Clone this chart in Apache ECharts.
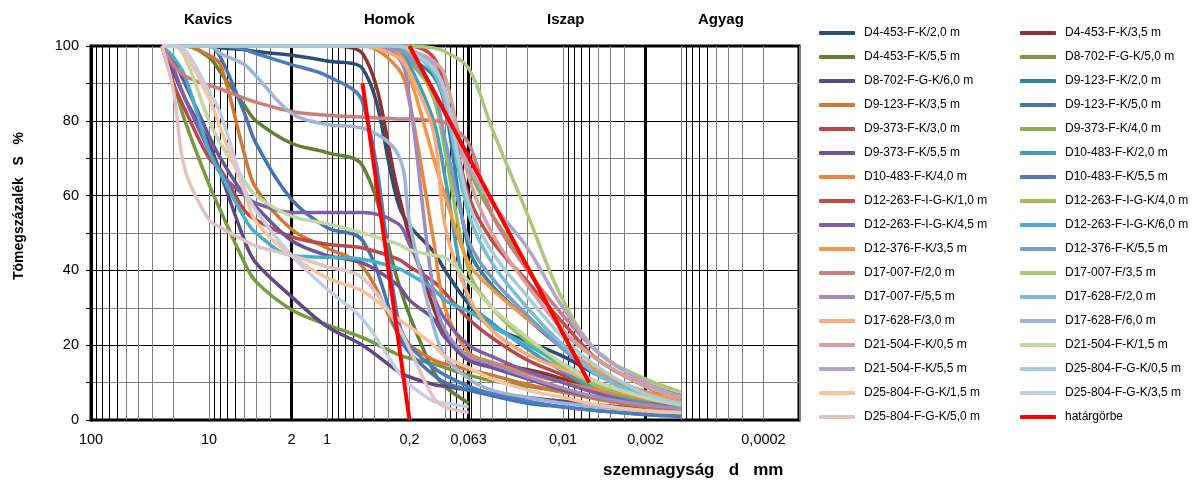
<!DOCTYPE html>
<html>
<head>
<meta charset="utf-8">
<script src="https://cdn.jsdelivr.net/npm/echarts@6.0.0/dist/echarts.min.js"></script>
<style>
  html, body { margin: 0; padding: 0; background: #fff; }
  #main { width: 1195px; height: 482px; }
</style>
</head>
<body>
<div id="main"></div>
<script>
// szemcseméret (mm) - közös mintavételi pontok
const SIZES = [25, 20, 16, 10, 8, 5, 4, 2, 1, 0.5, 0.25, 0.2, 0.125, 0.1, 0.063, 0.04, 0.02, 0.01, 0.005, 0.002, 0.001];

// áthullott tömegszázalék (%) mintánként
const S01 = [100, 100, 100, 100, 99.5, 99, 98.5, 97.5, 96, 94, 58, 52, 45, 40, 31, 25, 21, 17, 12, 7.5, 5];
const S02 = [100, 100, 100, 100, 100, 100, 100, 100, 100, 98, 61, 49, 30, 23, 16, 15, 13.5, 11, 7.5, 4.5, 3.5];
const S03 = [100, 100, 100, 97, 93, 84, 80, 74, 71.5, 68, 37, 28, 13, 9, 4.5, null, null, null, null, null, null];
const S04 = [100, 90, 80, 63, 56, 42, 37, 29.5, 25.5, 22, 17.5, 16.5, 15, 14, 12, 10.5, 9, 7.5, 6, 4.5, 3.5];
const S05 = [100, 93, 86, 74, 66, 48, 42, 33, 25, 20, 13, 11.5, 9.5, 9, 8, 7, 6, 5, 4, 3, 2.5];
const S06 = [100, 100, 100, 100, 100, 100, 100, 100, 100, 100, 100, 97, 92, 84, 46, 36, 27, 19, 12, 6.5, 4];
const S07 = [100, 100, 100, 97.5, 95, 71, 62, 51, 46, 41, 23, 20, 16, 15, 13.5, 12, 9.5, 7.5, 5.5, 3.5, 3];
const S08 = [100, 100, 100, 100, 97, 82, 74, 59, 51.5, 48, 23, 18, 12, 10, 8, 6.5, 4.5, 3.5, 2.5, 1.5, 1];
const S09 = [100, 90, 83, 70, 67, 56, 53.5, 49, 47, 46, 43, 41, 37, 34, 27, 22, 16, 12, 8, 5, 4];
const S10 = [100, 100, 100, 100, 100, 100, 100, 100, 100, 100, 100, 96, 88, 82, 67, 55, 41, 24, 16, 9, 6];
const S11 = [100, 96, 90, 76, 70, 60, 57, 48, 44, 42, 36, 32, 27, 22, 16, 14, 11, 8, 6, 4, 3];
const S12 = [100, 100, 100, 100, 100, 100, 100, 100, 100, 100, 99, 95, 80, 65, 32, 26, 19, 13, 8, 4.5, 3];
const S13 = [100, 100, 100, 100, 100, 100, 100, 100, 100, 100, 94, 85, 48, 30, 18, 15.5, 12.5, 10, 8, 5.5, 4.5];
const S14 = [100, 100, 100, 100, 100, 99, 98, 95, 92, 85, 27, 20, 14, 12, 9, 7, 5, 3.5, 2.5, 1.5, 1];
const S15 = [100, 100, 100, 100, 100, 100, 100, 100, 100, 100, 100, 100, 97, 88, 60, 48, 37, 26, 16, 9, 5];
const S16 = [100, 100, 100, 100, 100, 100, 100, 100, 100, 100, 100, 98, 86, 72, 40, 30, 21, 14, 9, 6, 4];
const S17 = [100, 94, 86, 72, 66, 60, 58, 55.5, 55.5, 55.5, 52.5, 47, 33, 27, 20, 17, 13, 10, 7, 4, 3];
const S18 = [100, 97, 92, 72, 66, 54, 50, 44, 43.5, 43, 40.5, 39, 35, 32, 29, 25, 20, 15, 10, 6, 4];
const S19 = [100, 100, 100, 100, 100, 100, 100, 100, 100, 100, 98, 92, 70, 60, 42, 35, 27, 20, 13, 7.5, 5.5];
const S20 = [100, 100, 100, 100, 100, 100, 100, 100, 100, 100, 99, 97, 88, 75, 48, 38, 28, 19, 12, 6, 4];
const S21 = [100, 95, 92, 89.5, 88.5, 86, 85, 82.5, 81.5, 81, 80.5, 80.5, 80, 79.5, 74, 55, 40, 28, 18, 10, 6.5];
const S22 = [100, 100, 100, 100, 100, 100, 100, 100, 100, 100, 100, 100, 99.5, 98.5, 94, 78, 55, 32, 18, 11, 7.5];
const S23 = [100, 100, 100, 100, 100, 100, 100, 100, 100, 100, 97, 86, 34, 24, 17, 15, 11.5, 8.5, 6, 4, 3];
const S24 = [100, 100, 100, 100, 100, 100, 100, 100, 100, 100, 100, 99, 93, 85, 55, 42, 30, 20, 12, 6.5, 4.5];
const S25 = [100, 100, 100, 100, 100, 100, 100, 100, 100, 100, 97, 93, 77, 52, 33, 24, 17.5, 13.5, 10, 6, 4.5];
const S26 = [100, 100, 100, 100, 98, 95, 92, 82, 79, 78, 71, 53, 25, 17, 11, 8, 6, 4.5, 3.5, 2.5, 2];
const S27 = [100, 100, 100, 100, 100, 100, 100, 100, 100, 100, 100, 99, 96, 92, 65, 50, 36, 24, 16, 9, 6];
const S28 = [100, 100, 97, 80, 74, 64, 60, 54.5, 52.5, 50, 47, 45.5, 44, 43.5, 37, 30, 22, 15, 10, 6, 4];
const S29 = [100, 100, 100, 100, 100, 100, 100, 100, 100, 100, 100, 99, 95, 86, 68, 58, 46, 30, 18, 10, 6];
const S30 = [100, 100, 100, 100, 100, 100, 100, 100, 100, 100, 100, 99, 94, 88, 58, 45, 33, 22, 14, 7, 4.5];
const S31 = [100, 100, 98, 86, 78, 61, 53, 44, 38, 34.5, 27, 25, 20, 17, 14, 11, 8, 6, 4, 2.5, 2];
const S32 = [100, 100, 99, 88, 82, 62, 56, 44, 35, 27, 13, 9.5, 5, 4.5, 3.5, null, null, null, null, null, null];
const S33 = [100, 88, 67, 53.5, 51.5, 48, 46.5, 44, 41, 38, 25, 19, 6, 3.5, 2, null, null, null, null, null, null];

const SERIES_NAMES = [
  'D4-453-F-K/2,0 m', 'D4-453-F-K/3,5 m', 'D4-453-F-K/5,5 m', 'D8-702-F-G-K/5,0 m',
  'D8-702-F-G-K/6,0 m', 'D9-123-F-K/2,0 m', 'D9-123-F-K/3,5 m', 'D9-123-F-K/5,0 m',
  'D9-373-F-K/3,0 m', 'D9-373-F-K/4,0 m', 'D9-373-F-K/5,5 m', 'D10-483-F-K/2,0 m',
  'D10-483-F-K/4,0 m', 'D10-483-F-K/5,5 m', 'D12-263-F-I-G-K/1,0 m', 'D12-263-F-I-G-K/4,0 m',
  'D12-263-F-I-G-K/4,5 m', 'D12-263-F-I-G-K/6,0 m', 'D12-376-F-K/3,5 m', 'D12-376-F-K/5,5 m',
  'D17-007-F/2,0 m', 'D17-007-F/3,5 m', 'D17-007-F/5,5 m', 'D17-628-F/2,0 m',
  'D17-628-F/3,0 m', 'D17-628-F/6,0 m', 'D21-504-F-K/0,5 m', 'D21-504-F-K/1,5 m',
  'D21-504-F-K/5,5 m', 'D25-804-F-G-K/0,5 m', 'D25-804-F-G-K/1,5 m', 'D25-804-F-G-K/3,5 m',
  'D25-804-F-G-K/5,0 m'
];
const SERIES_VALUES = [S01, S02, S03, S04, S05, S06, S07, S08, S09, S10, S11, S12, S13, S14, S15, S16,
  S17, S18, S19, S20, S21, S22, S23, S24, S25, S26, S27, S28, S29, S30, S31, S32, S33];

// határgörbe két szakasza
const BOUND_NAME = 'határgörbe';
const BOUND1_D = [0.2, 0.006];
const BOUND1_P = [100, 10];
const BOUND2_D = [0.5, 0.2];
const BOUND2_P = [90, 0];

const X_LABELS = [100, 10, 2, 1, 0.2, 0.063, 0.01, 0.002, 0.0002];
const BOUND_TICKS = [2, 0.063, 0.002];

const LINE_COLORS = [
  '#2C4D75', '#8B3230', '#647E36', '#7A9A3E', '#5E4A82', '#31859C', '#D07830', '#4472B4',
  '#B94A48', '#8CAF4B', '#6E5596', '#3FA0BE', '#E8873C', '#4A7DBE', '#C44B4B', '#9BBE55',
  '#7D5FAA', '#46AFCD', '#F59646', '#7D9BC8', '#CD7D7D', '#A9C878', '#A08CBE', '#78BED7',
  '#FAAA78', '#A0B4D7', '#D7A0A0', '#C3D7A5', '#B4A5C8', '#A5CDDC', '#FAC3A0', '#C3CDE6',
  '#E1C3C3'
];

const FONT = '"Liberation Sans", Arial, sans-serif';

// logaritmikus rácsvonalak: 1..5 szürke, 6..9 fekete
const gridGray = [100];
const gridBlack = [];
for (let e = 1; e >= -4; e--) {
  for (let m = 1; m <= 9; m++) {
    const v = Number((m * Math.pow(10, e)).toPrecision(3));
    if (m <= 5) gridGray.push(v); else gridBlack.push(v);
  }
}

const chart = echarts.init(document.getElementById('main'));

const logAxis = {
  type: 'log',
  logBase: 10,
  inverse: true,
  min: 0.0001,
  max: 100,
  axisLine: { show: false },
  axisPointer: { show: false }
};

const series = SERIES_VALUES.map((vals, i) => ({
  name: SERIES_NAMES[i],
  type: 'line',
  xAxisIndex: 0,
  yAxisIndex: 0,
  data: SIZES.map((d, j) => [d, vals[j]]).filter(p => p[1] != null),
  smooth: 0.35,
  symbol: 'none',
  showSymbol: false,
  color: LINE_COLORS[i],
  itemStyle: { color: LINE_COLORS[i] },
  lineStyle: { width: 3.5, color: LINE_COLORS[i] },
  emphasis: { disabled: true },
  silent: true,
  z: 3
}));

[[BOUND1_D, BOUND1_P], [BOUND2_D, BOUND2_P]].forEach(([ds, ps]) => {
  series.push({
    name: BOUND_NAME,
    type: 'line',
    data: ds.map((d, j) => [d, ps[j]]),
    symbol: 'none',
    showSymbol: false,
    color: '#FF0000',
    itemStyle: { color: '#FF0000' },
    lineStyle: { width: 4, color: '#FF0000' },
    emphasis: { disabled: true },
    silent: true,
    z: 4
  });
});

const legendBase = {
  orient: 'vertical',
  top: 26,
  padding: 0,
  itemWidth: 36,
  itemHeight: 4,
  itemGap: 10,
  icon: 'roundRect',
  selectedMode: false,
  textStyle: { fontFamily: FONT, fontSize: 12, color: '#000', lineHeight: 14, padding: [0, 0, 0, 4] }
};

chart.setOption({
  animation: false,
  backgroundColor: '#fff',
  grid: {
    left: 91, right: 396, top: 46, bottom: 62,
    show: true, borderColor: '#000', borderWidth: 3, containLabel: false
  },
  legend: [
    Object.assign({}, legendBase, { left: 819, data: SERIES_NAMES.filter((n, i) => i % 2 === 0) }),
    Object.assign({}, legendBase, { left: 1020, data: SERIES_NAMES.filter((n, i) => i % 2 === 1).concat([BOUND_NAME]) })
  ],
  xAxis: [
    Object.assign({}, logAxis, {
      position: 'bottom',
      axisTick: { show: false, customValues: gridGray },
      splitLine: { show: true, lineStyle: { color: '#808080', width: 1 } },
      axisLabel: {
        customValues: X_LABELS,
        formatter: v => String(v).replace('.', ','),
        margin: 12, fontSize: 14.5, color: '#000', fontFamily: FONT
      }
    }),
    Object.assign({}, logAxis, {
      position: 'top',
      axisTick: { show: false, customValues: gridBlack },
      splitLine: { show: true, lineStyle: { color: '#000', width: 1 } },
      axisLabel: { show: false }
    }),
    Object.assign({}, logAxis, {
      position: 'top',
      axisTick: { show: false, customValues: BOUND_TICKS },
      splitLine: { show: true, lineStyle: { color: '#000', width: 3 } },
      axisLabel: { show: false }
    })
  ],
  yAxis: {
    type: 'value',
    min: 0,
    max: 100,
    interval: 10,
    axisLine: { show: true, lineStyle: { color: '#000', width: 3 } },
    axisTick: { show: true, length: 5, lineStyle: { color: '#000', width: 1 } },
    axisLabel: {
      formatter: v => (v % 20 === 0 ? String(v) : ''),
      margin: 12, fontSize: 14.5, color: '#000', fontFamily: FONT
    },
    splitLine: { show: true, lineStyle: { color: ['#000', '#808080'], width: 1 } }
  },
  graphic: [
    { type: 'text', left: 184, top: 12, style: { text: 'Kavics', font: 'bold 15px ' + FONT, fill: '#000' } },
    { type: 'text', left: 364, top: 12, style: { text: 'Homok', font: 'bold 15px ' + FONT, fill: '#000' } },
    { type: 'text', left: 547, top: 12, style: { text: 'Iszap', font: 'bold 15px ' + FONT, fill: '#000' } },
    { type: 'text', left: 698, top: 12, style: { text: 'Agyag', font: 'bold 15px ' + FONT, fill: '#000' } },
    { type: 'text', left: 603, top: 462, style: { text: 'szemnagyság   d   mm', font: 'bold 17px ' + FONT, fill: '#000' } },
    {
      type: 'text', x: 12, y: 280, rotation: Math.PI / 2,
      style: { text: 'Tömegszázalék   S   %', font: 'bold 14px ' + FONT, fill: '#000' }
    }
  ],
  series: series
});
</script>
</body>
</html>
